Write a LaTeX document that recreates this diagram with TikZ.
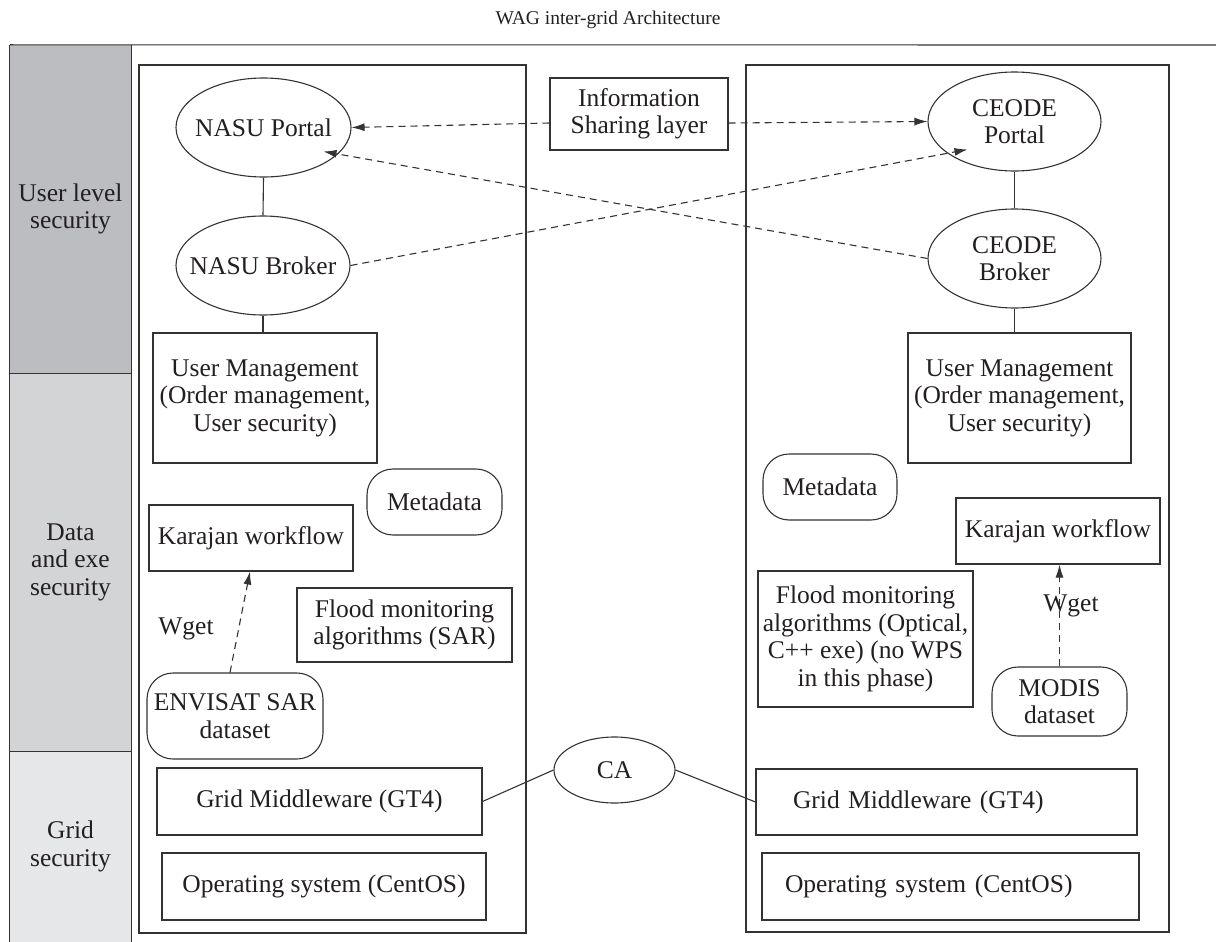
\documentclass[tikz,border=0pt]{standalone}
\usepackage{fontspec}
\setmainfont{Liberation Serif}
\usetikzlibrary{shapes.geometric,arrows.meta}
\definecolor{linec}{HTML}{333333}
\definecolor{textc}{HTML}{231F20}
\definecolor{sbA}{HTML}{BCBDC0}
\definecolor{sbB}{HTML}{D3D4D6}
\definecolor{sbC}{HTML}{E6E7E8}
\begin{document}
\begin{tikzpicture}[x=1pt,y=-1pt,
  every node/.style={font=\fontsize{25.5}{27.5}\selectfont, text=textc},
  conn/.style={draw=linec, line width=1.1pt},
  sidecell/.style={rectangle, minimum width=121pt, inner sep=0pt, align=center},
  container/.style={rectangle, draw=linec, line width=1.1pt, inner sep=0pt},
  boxn/.style={rectangle, draw=linec, line width=1.1pt, inner sep=0pt, align=center},
  oval/.style={ellipse, draw=linec, line width=1.1pt, inner sep=0pt},
  pill/.style={rectangle, draw=linec, line width=1.1pt, rounded corners=26pt, inner sep=0pt, align=center},
  dasharrow/.style={draw=linec, line width=1.1pt, dash pattern=on 7pt off 5pt, -{Latex[length=13pt,width=8pt]}},
  plainlabel/.style={inner sep=0pt}]
\useasboundingbox (0,0) rectangle (1216,942);

% title
\node[plainlabel, font=\fontsize{19.5}{22}\selectfont] (title) at (608,20) {WAG inter-grid Architecture};

% sidebar
\node[sidecell, fill=sbA, minimum height=328pt] (su) at (70.5,209) {User level\\security};
\node[sidecell, fill=sbB, minimum height=378pt] (sd) at (70.5,562) {Data\\and exe\\security};
\node[sidecell, fill=sbC, minimum height=191pt] (sg) at (70.5,846.5) {Grid\\security};
\coordinate (topright) at (1216,45);
\draw[conn] (su.north west) -- (topright);
\draw[conn] (su.north west) -- (sg.south west);
\draw[conn] (su.north east) -- (sg.south east);
\draw[conn] (su.south west) -- (su.south east);
\draw[conn] (sd.south west) -- (sd.south east);

% containers
\node[container, minimum width=387pt, minimum height=868pt] (lc) at (332.5,499) {};
\node[container, minimum width=423pt, minimum height=867pt] (rc) at (957.5,498.5) {};

% information sharing
\node[boxn, minimum width=178pt, minimum height=72pt] (is) at (639,114) {Information\\Sharing layer};

% left grid
\node[oval, minimum width=175pt, minimum height=99pt, label={center:NASU Portal}] (np) at (263.5,127.5) {};
\node[oval, minimum width=174pt, minimum height=99pt, label={center:NASU Broker}] (nb) at (263,265.5) {};
\node[boxn, minimum width=224pt, minimum height=130pt] (uml) at (265,398) {User Management\\(Order management,\\User security)};
\node[pill, minimum width=135pt, minimum height=66pt] (mdl) at (434.5,502) {Metadata};
\node[boxn, minimum width=204pt, minimum height=66pt] (kl) at (251,538) {Karajan workflow};
\node[boxn, minimum width=215pt, minimum height=74pt] (fl) at (404.5,625) {Flood monitoring\\algorithms (SAR)};
\node[pill, minimum width=176pt, minimum height=86pt] (env) at (235,716) {ENVISAT SAR\\dataset};
\node[boxn, minimum width=325pt, minimum height=67pt] (gml) at (319.5,801.5) {Grid Middleware (GT4)};
\node[boxn, minimum width=324pt, minimum height=67pt] (osl) at (324,886.5) {Operating system (CentOS)};
\node[plainlabel] (wl) at (186,629) {Wget};

% right grid
\node[oval, minimum width=173pt, minimum height=99pt, label={[align=center]center:CEODE\\Portal}] (cp) at (1014.5,121.5) {};
\node[oval, minimum width=173pt, minimum height=99pt, label={[align=center]center:CEODE\\Broker}] (cb) at (1014.5,258.5) {};
\node[boxn, minimum width=223pt, minimum height=130pt] (umr) at (1019.5,398) {User Management\\(Order management,\\User security)};
\node[pill, minimum width=134pt, minimum height=66pt] (mdr) at (830,487) {Metadata};
\node[boxn, minimum width=204pt, minimum height=66pt] (kr) at (1058,531) {Karajan workflow};
\node[boxn, minimum width=215pt, minimum height=136pt] (fr) at (865.5,639) {Flood monitoring\\algorithms (Optical,\\C++ exe) (no WPS\\in this phase)};
\node[pill, minimum width=135pt, minimum height=69pt] (mod) at (1059.5,701.5) {MODIS\\dataset};
\node[boxn, minimum height=66pt, inner xsep=37pt, text width=307pt, align=left] (gmr) at (946.5,802) {Grid Middleware (GT4)};
\node[boxn, minimum height=67pt, inner xsep=23pt, text width=331pt, align=left] (osr) at (950.5,886.5) {Operating system (CentOS)};
\node[plainlabel] (wr) at (1071,606) {Wget};

% CA
\node[oval, minimum width=121pt, minimum height=66pt, label={center:CA}] (ca) at (614.5,770) {};

% solid connectors
\draw[conn] (np.south) -- (nb.north);
\draw[conn] (nb.south) -- (nb.south |- uml.north);
\draw[conn] (cp.south) -- (cb.north);
\draw[conn] (cb.south) -- (cb.south |- umr.north);
\draw[conn] (gml.east) -- (ca.west);
\draw[conn] (ca.east) -- (gmr.west);

% dashed arrows
\draw[dasharrow] ([yshift=-9pt]is.west) -- (np.east);
\draw[dasharrow] ([yshift=-9pt]is.east) -- (cp.west);
\draw[dasharrow] (cb.west) -- ([shift={(60,24)}]np.center);
\draw[dasharrow] (nb.east) -- ([shift={(-47,28)}]cp.center);
\draw[dasharrow] ([xshift=-5pt]env.north) -- ([xshift=-1pt]kl.south);
\draw[dasharrow] (mod.north) -- (mod.north |- kr.south);
\end{tikzpicture}
\end{document}
